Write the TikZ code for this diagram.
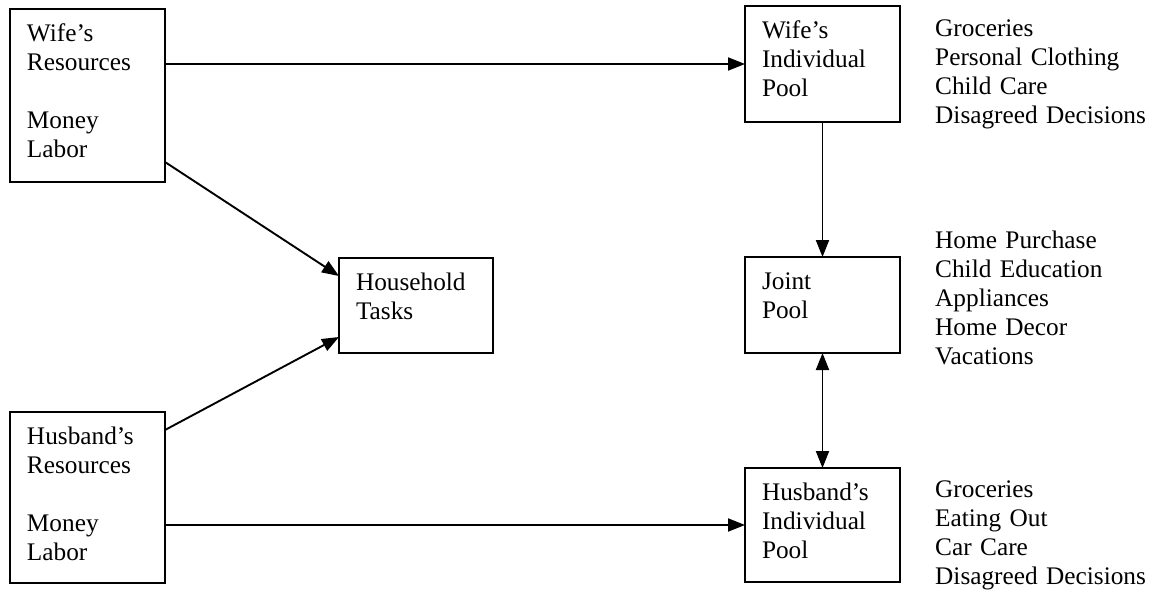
\documentclass[tikz,border=0pt]{standalone}
\usepackage{fontspec}
\setmainfont{Liberation Serif}
\usetikzlibrary{arrows.meta}

\begin{document}
\begin{tikzpicture}[x=1pt, y=-1pt, >={Triangle[length=17pt,width=13pt]},
    box/.style={draw, line width=1.8pt, anchor=north west, outer sep=0pt,
      inner xsep=17pt, inner ysep=0pt, text height=32.5pt, align=left,
      font=\fontsize{25.3}{29}\selectfont},
    items/.style={anchor=base west, inner sep=0pt, text width=220pt, align=left,
      font=\fontsize{25.3}{29}\selectfont},
    link/.style={line width=1.9pt}]
  \useasboundingbox (0,0) rectangle (1151,591);

  % resources
  \node[box, text width=121pt, text depth=140.5pt] (wres) at (10,9)
    {Wife's\\Resources\\[29pt]Money\\Labor};
  \node[box, text width=121pt, text depth=138.5pt] (hres) at (10,412)
    {Husband's\\Resources\\[29pt]Money\\Labor};
  \node[box, text width=120pt, text depth=62.5pt] (tasks) at (339,258)
    {Household\\Tasks};

  % pools
  \node[box, text width=121pt, text depth=83.5pt] (wpool) at (745,6)
    {Wife's\\Individual\\Pool};
  \node[box, text width=121pt, text depth=63.5pt] (jpool) at (745,257)
    {Joint\\Pool};
  \node[box, text width=121pt, text depth=81.5pt] (hpool) at (745,468)
    {Husband's\\Individual\\Pool};

  % spending lists
  \node[items] (wlist) at (935,37)
    {Groceries\\Personal Clothing\\Child Care\\Disagreed Decisions};
  \node[items] (jlist) at (935,248)
    {Home Purchase\\Child Education\\Appliances\\Home Decor\\Vacations};
  \node[items] (hlist) at (935,497)
    {Groceries\\Eating Out\\Car Care\\Disagreed Decisions};

  \draw[link, ->] (wres.east |- wpool.west) -- (wpool.west);
  \draw[link, ->] ([yshift=20pt]wres.south east) -- ([yshift=-18pt]tasks.north west);
  \draw[link, ->] ([yshift=-18pt]hres.north east) -- ([yshift=16pt]tasks.south west);
  \draw[link, ->] (hres.east |- hpool.west) -- (hpool.west);
  \draw[link, ->] (wpool) -- (jpool);
  \draw[link, <->] (jpool) -- (hpool);
\end{tikzpicture}
\end{document}
